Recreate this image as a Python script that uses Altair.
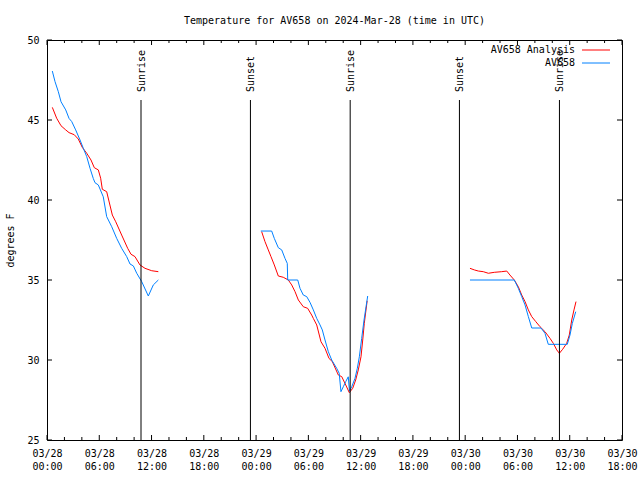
import altair as alt
import pandas as pd

FONT = "DejaVu Sans Mono"

# ---- data (hours since 2024-03-28 00:00 UTC, temperature in F) ----
an1_t = [0.61, 1.11, 1.61, 2.15, 2.53, 3.13, 3.59, 4.05, 4.56, 5.05, 5.43, 5.89, 6.16, 6.35,
         6.85, 7.50, 7.89, 8.57, 9.26, 9.64, 10.10, 10.67, 11.25, 12.02, 12.78]
an1_v = [45.79, 45.11, 44.64, 44.38, 44.21, 44.08, 43.81, 43.29, 42.92, 42.50, 42.02, 41.88, 41.36, 40.67,
         40.52, 39.06, 38.64, 37.81, 36.98, 36.61, 36.46, 35.94, 35.73, 35.58, 35.52]
ob1_t = [0.61, 0.92, 1.30, 1.61, 2.15, 2.53, 2.84, 3.29, 3.79, 4.17, 4.56, 4.94, 5.31, 5.51,
         5.89, 6.46, 6.85, 7.43, 8.00, 8.57, 9.15, 9.53, 9.91, 10.30, 10.87, 11.63, 12.20, 12.78]
ob1_v = [48.06, 47.40, 46.77, 46.14, 45.63, 45.10, 44.90, 44.38, 43.75, 43.23, 42.71, 41.98, 41.35, 41.08,
         40.94, 40.20, 38.96, 38.33, 37.60, 36.98, 36.46, 36.00, 35.88, 35.42, 34.90, 34.00, 34.69, 35.00]

an2_t = [24.64, 25.02, 25.40, 25.71, 26.09, 26.55, 27.12, 27.70, 28.09, 28.47, 28.85, 29.42, 29.92,
         30.38, 30.57, 30.96, 31.45, 31.91, 32.37, 32.75, 33.44, 33.83, 34.29, 34.70, 35.09, 35.43,
         35.73, 36.04, 36.24, 36.42, 36.75]
an2_v = [38.02, 37.40, 36.88, 36.46, 35.94, 35.25, 35.17, 35.00, 34.69, 34.27, 33.75, 33.33, 33.23,
         32.81, 32.60, 32.19, 31.14, 30.73, 30.10, 29.90, 29.06, 28.96, 28.44, 27.96, 28.23, 28.75,
         29.38, 30.20, 31.25, 32.29, 33.70]
ob2_t = [24.54, 25.79, 26.09, 26.55, 26.94, 27.32, 27.58, 27.63, 28.78, 29.04, 29.42, 29.81, 30.19,
         30.57, 30.96, 31.34, 31.60, 31.91, 32.29, 32.68, 33.25, 33.54, 33.74, 34.01, 34.29, 34.58,
         34.72, 34.98, 35.35, 35.62, 35.85, 36.12, 36.39, 36.62, 36.81]
ob2_v = [38.06, 38.06, 37.60, 37.02, 36.88, 36.35, 36.04, 35.00, 35.00, 34.48, 34.06, 33.96, 33.60,
         33.13, 32.60, 32.19, 31.88, 31.25, 30.52, 30.00, 29.48, 29.17, 28.02, 28.33, 28.65, 28.95,
         28.05, 28.33, 28.85, 29.48, 30.20, 31.35, 32.50, 33.33, 34.00]

an3_t = [48.55, 49.05, 49.51, 50.08, 50.66, 51.34, 52.19, 52.77, 53.14, 53.64, 54.10, 54.49, 54.87,
         55.25, 55.64, 56.10, 56.59, 57.16, 57.74, 58.12, 58.51, 58.81, 59.19, 59.65, 59.95, 60.23,
         60.49, 60.72]
an3_v = [35.73, 35.63, 35.56, 35.52, 35.42, 35.48, 35.52, 35.56, 35.31, 35.00, 34.58, 34.06, 33.65,
         33.13, 32.71, 32.40, 32.08, 31.77, 31.35, 31.04, 30.63, 30.42, 30.67, 31.04, 31.56, 32.50,
         33.13, 33.65]
ob3_t = [48.55, 53.64, 54.10, 54.49, 54.87, 55.25, 55.64, 56.70, 57.16, 57.54, 59.72, 60.03, 60.30, 60.69]
ob3_v = [35.00, 35.00, 34.48, 33.96, 33.44, 32.71, 32.00, 32.00, 31.67, 30.98, 30.98, 31.56, 32.29, 33.02]

sun_t = [10.79, 23.35, 34.80, 47.34, 58.82]
sun_label = ["Sunrise", "Sunset", "Sunrise", "Sunset", "Sunrise"]

series_names = ["AV658 Analysis", "AV658"]
series_colors = ["#ff0000", "#0080ff"]

x_major = list(range(0, 67, 6))
x_minor = [h for h in range(0, 67, 2) if h % 6 != 0]
y_ticks = [25, 30, 35, 40, 45, 50]

# ---- build table ----
rows = []
for seg, (tt, vv, name) in enumerate([
        (an1_t, an1_v, "AV658 Analysis"), (ob1_t, ob1_v, "AV658"),
        (an2_t, an2_v, "AV658 Analysis"), (ob2_t, ob2_v, "AV658"),
        (an3_t, an3_v, "AV658 Analysis"), (ob3_t, ob3_v, "AV658")]):
    for t, v in zip(tt, vv):
        rows.append({"t": t, "v": v, "series": name, "seg": seg})
df = pd.DataFrame(rows)
sun_df = pd.DataFrame({"t": sun_t, "label": sun_label})

W, H = 575, 400
xs = alt.Scale(domain=[0, 66], nice=False, zero=False)
ys = alt.Scale(domain=[25, 50], nice=False, zero=False)

label_expr = ("['03/' + (28 + floor(datum.value / 24)), "
              "((datum.value % 24) < 10 ? '0' : '') + (datum.value % 24) + ':00']")

lines = alt.Chart(df).mark_line(strokeWidth=1, interpolate="linear").encode(
    x=alt.X("t:Q", scale=xs, axis=alt.Axis(values=x_major, labelExpr=label_expr, ticks=False,
                                          domain=False, grid=False, title=None, labelFont=FONT,
                                          labelFontSize=10, labelColor="black", labelPadding=8,
                                          labelLineHeight=13, labelFlush=False, labelOverlap=False,
                                          labelBaseline="top")),
    y=alt.Y("v:Q", scale=ys, axis=alt.Axis(values=y_ticks, ticks=False, domain=False, grid=False,
                                          title="degrees F", titleFont=FONT, titleFontSize=10,
                                          titleFontWeight="normal", titleColor="black",
                                          titleX=-37, titleY=200, titleAngle=270,
                                          titleAlign="center", titleBaseline="middle",
                                          labelFont=FONT, labelFontSize=10, labelColor="black",
                                          labelPadding=8, labelFlush=False)),
    color=alt.Color("series:N", scale=alt.Scale(domain=series_names, range=series_colors), legend=None),
    detail="seg:N",
    order="t:Q",
)

sun_rules = alt.Chart(sun_df).mark_rule(color="black", strokeWidth=1).encode(
    x=alt.X("t:Q", scale=xs), y=alt.value(60), y2=alt.value(H))
sun_text = alt.Chart(sun_df).mark_text(font=FONT, fontSize=10, angle=270, align="left",
                                       baseline="middle", color="black", dy=1).encode(
    x=alt.X("t:Q", scale=xs), y=alt.value(52), text="label:N")

xmaj = pd.DataFrame({"t": x_major})
xmin = pd.DataFrame({"t": x_minor})
ytk = pd.DataFrame({"v": y_ticks})
tick_layers = [
    alt.Chart(xmaj).mark_rule(color="black").encode(x=alt.X("t:Q", scale=xs), y=alt.value(H), y2=alt.value(H - 5)),
    alt.Chart(xmaj).mark_rule(color="black").encode(x=alt.X("t:Q", scale=xs), y=alt.value(0), y2=alt.value(5)),
    alt.Chart(xmin).mark_rule(color="black").encode(x=alt.X("t:Q", scale=xs), y=alt.value(H), y2=alt.value(H - 3)),
    alt.Chart(xmin).mark_rule(color="black").encode(x=alt.X("t:Q", scale=xs), y=alt.value(0), y2=alt.value(3)),
    alt.Chart(ytk).mark_rule(color="black").encode(y=alt.Y("v:Q", scale=ys), x=alt.value(0), x2=alt.value(5)),
    alt.Chart(ytk).mark_rule(color="black").encode(y=alt.Y("v:Q", scale=ys), x=alt.value(W - 5), x2=alt.value(W)),
]

leg_layers = []
for i, (name, col) in enumerate(zip(series_names, series_colors)):
    ldf = pd.DataFrame({"s": [name]})
    yy = 10 + 13 * i
    leg_layers.append(alt.Chart(ldf).mark_text(font=FONT, fontSize=10, align="right", baseline="middle",
                                               color="black").encode(
        x=alt.value(528), y=alt.value(yy), text="s:N"))
    leg_layers.append(alt.Chart(ldf).mark_rule(color=col, strokeWidth=1).encode(
        x=alt.value(535), x2=alt.value(563), y=alt.value(yy)))

chart = alt.layer(lines, sun_rules, sun_text, *tick_layers, *leg_layers).properties(
    width=W, height=H,
    title=alt.TitleParams("Temperature for AV658 on 2024-Mar-28 (time in UTC)", font=FONT, fontSize=10,
                          fontWeight="normal", color="black", anchor="middle", offset=9),
    autosize=alt.AutoSizeParams(type="none"),
    padding={"left": 47, "top": 40, "right": 18, "bottom": 40},
    background="white",
).configure_view(stroke="black", strokeWidth=1)

chart.save("out.html", embed_options={"renderer": "svg", "actions": False})
